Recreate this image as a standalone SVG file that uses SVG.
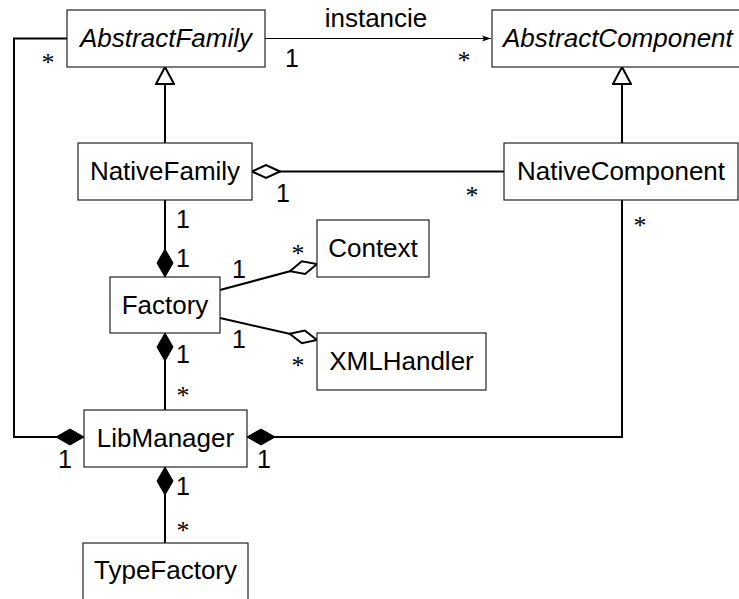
<svg xmlns="http://www.w3.org/2000/svg" width="739" height="599" viewBox="0 0 739 599">
<style>
.box{fill:#fff;stroke:#222;stroke-width:1.2}
.t{font-family:"Liberation Sans",Arial,sans-serif;font-size:26px;fill:#000;text-anchor:middle}
.it{font-style:italic}
.c{fill:none;stroke:#000;stroke-width:2}
.thin{fill:none;stroke:#000;stroke-width:1.1}
.m{font-family:"Liberation Sans",Arial,sans-serif;font-size:25px;fill:#000;text-anchor:middle}
.s{font-family:"Liberation Serif","Times New Roman",serif;font-size:26px;fill:#000;text-anchor:middle}
</style>
<defs>
<marker id="gen" viewBox="0 0 20 20" refX="18" refY="10" markerWidth="20" markerHeight="20" markerUnits="userSpaceOnUse" orient="auto">
<path d="M1,1 L18,10 L1,19 Z" fill="#fff" stroke="#000" stroke-width="2"/>
</marker>
<marker id="agg" viewBox="0 0 30 16" refX="29" refY="8" markerWidth="30" markerHeight="16" markerUnits="userSpaceOnUse" orient="auto">
<path d="M1,8 L15,1.5 L29,8 L15,14.5 Z" fill="#fff" stroke="#000" stroke-width="2"/>
</marker>
<marker id="comp" viewBox="0 0 30 18" refX="29" refY="9" markerWidth="30" markerHeight="18" markerUnits="userSpaceOnUse" orient="auto">
<path d="M1,9 L15,1 L29,9 L15,17 Z" fill="#000" stroke="#000" stroke-width="1"/>
</marker>
<marker id="arr" viewBox="0 0 10 8" refX="9" refY="4" markerWidth="10" markerHeight="8" markerUnits="userSpaceOnUse" orient="auto">
<path d="M0,1 L9,4 L0,7 L2,4 Z" fill="#000"/>
</marker>
</defs>
<g id="connectors">
<path class="thin" d="M265,38.5 H491" marker-end="url(#arr)"/>
<path class="c" d="M165,143 V67" marker-end="url(#gen)"/>
<path class="c" d="M622,143 V67" marker-end="url(#gen)"/>
<path class="c" d="M504,171.5 H252" marker-end="url(#agg)"/>
<path class="c" d="M165,200 V277" marker-end="url(#comp)"/>
<path class="c" d="M220,290 L317,264" marker-end="url(#agg)"/>
<path class="c" d="M220,318 L317,340" marker-end="url(#agg)"/>
<path class="c" d="M165,410 V333" marker-end="url(#comp)"/>
<path class="c" d="M67,38.5 H14 V437 H84" marker-end="url(#comp)"/>
<path class="c" d="M622,200 V437 H247" marker-end="url(#comp)"/>
<path class="c" d="M165,543 V467" marker-end="url(#comp)"/>
<text class="t" x="376" y="27">instancie</text>
<text class="m" x="292" y="67">1</text>
<text class="s" x="464" y="69">*</text>
<text class="s" x="48" y="71">*</text>
<text class="m" x="283" y="202">1</text>
<text class="s" x="472" y="204">*</text>
<text class="m" x="183" y="228">1</text>
<text class="m" x="183" y="267">1</text>
<text class="s" x="298" y="262">*</text>
<text class="m" x="239" y="278">1</text>
<text class="s" x="640" y="234">*</text>
<text class="m" x="239" y="348">1</text>
<text class="s" x="298" y="374">*</text>
<text class="m" x="183" y="363">1</text>
<text class="s" x="183" y="404">*</text>
<text class="m" x="65" y="468">1</text>
<text class="m" x="264" y="468">1</text>
<text class="m" x="183" y="495">1</text>
<text class="s" x="183" y="539">*</text>
</g>
<g id="AbstractFamily"><rect class="box" x="67" y="10" width="198" height="57"/><text class="t it" x="166" y="47">AbstractFamily</text></g>
<g id="AbstractComponent"><rect class="box" x="492" y="10" width="260" height="57"/><text class="t it" x="503" y="47" style="text-anchor:start">AbstractComponent</text></g>
<g id="NativeFamily"><rect class="box" x="78" y="143" width="174" height="57"/><text class="t" x="165" y="180">NativeFamily</text></g>
<g id="NativeComponent"><rect class="box" x="504" y="143" width="234" height="57"/><text class="t" x="621" y="180">NativeComponent</text></g>
<g id="Context"><rect class="box" x="317" y="220" width="112" height="57"/><text class="t" x="373" y="257">Context</text></g>
<g id="Factory"><rect class="box" x="110" y="277" width="110" height="56"/><text class="t" x="165" y="314">Factory</text></g>
<g id="XMLHandler"><rect class="box" x="317" y="333" width="169" height="57"/><text class="t" x="401.5" y="370">XMLHandler</text></g>
<g id="LibManager"><rect class="box" x="84" y="410" width="163" height="57"/><text class="t" x="165.5" y="447">LibManager</text></g>
<g id="TypeFactory"><rect class="box" x="83" y="543" width="165" height="62"/><text class="t" x="165.5" y="579">TypeFactory</text></g>
</svg>
